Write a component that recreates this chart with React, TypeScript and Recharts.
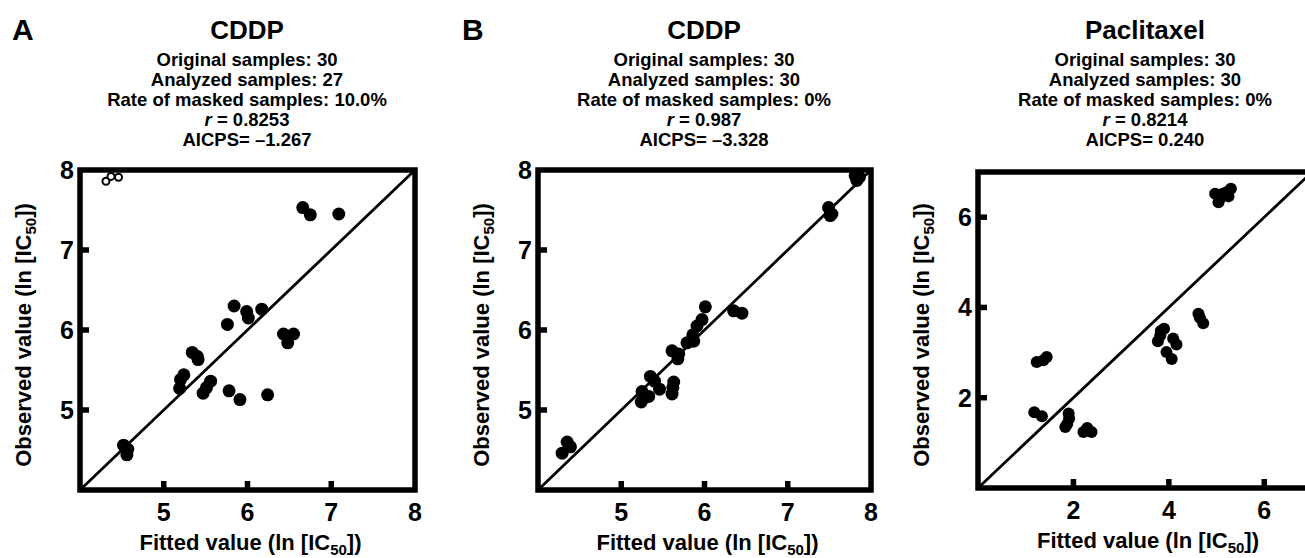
import React from "react";
import { Label, ReferenceArea, ReferenceLine, Scatter, ScatterChart, XAxis, YAxis } from "recharts";

const FONT = "'Liberation Sans', Arial, Helvetica, sans-serif";

// A: CDDP, analyzed samples (filled) and masked samples (open)
const cddpAFitted = [6.66, 6.75, 7.09, 5.84, 5.76, 5.99, 6.01, 6.17, 6.43, 6.55, 6.48, 5.34, 5.4, 5.41, 5.24, 5.2, 5.19, 5.56, 5.51, 5.47, 5.78, 5.91, 6.24, 4.52, 4.57, 4.56, 4.54];
const cddpAObserved = [7.53, 7.44, 7.45, 6.3, 6.07, 6.23, 6.15, 6.26, 5.95, 5.95, 5.84, 5.72, 5.67, 5.63, 5.44, 5.38, 5.27, 5.36, 5.28, 5.21, 5.24, 5.13, 5.19, 4.56, 4.51, 4.44, 4.53];
const cddpAMaskedFitted = [4.31, 4.37, 4.46];
const cddpAMaskedObserved = [7.86, 7.92, 7.91];

// B: CDDP, no masking
const cddpBFitted = [4.29, 4.35, 4.39, 5.25, 5.27, 5.33, 5.24, 5.35, 5.4, 5.46, 5.63, 5.62, 5.61, 5.61, 5.69, 5.68, 5.79, 5.87, 5.86, 5.91, 5.97, 6.01, 6.35, 6.45, 7.49, 7.51, 7.53, 7.81, 7.83, 7.86];
const cddpBObserved = [4.46, 4.6, 4.54, 5.23, 5.15, 5.17, 5.1, 5.42, 5.36, 5.26, 5.35, 5.28, 5.2, 5.74, 5.7, 5.64, 5.84, 5.86, 5.94, 6.05, 6.13, 6.29, 6.24, 6.21, 7.53, 7.43, 7.45, 7.93, 7.87, 7.91];

// B: Paclitaxel
const pacFitted = [1.23, 1.37, 1.44, 1.18, 1.34, 1.9, 1.91, 1.83, 1.87, 2.21, 2.29, 2.38, 3.9, 3.82, 3.77, 3.83, 4.09, 4.16, 3.95, 4.06, 4.62, 4.72, 4.65, 4.97, 5.07, 5.04, 5.25, 5.3, 5.13, 5.21];
const pacObserved = [2.79, 2.83, 2.9, 1.68, 1.59, 1.65, 1.54, 1.35, 1.42, 1.24, 1.33, 1.24, 3.53, 3.38, 3.25, 3.48, 3.31, 3.18, 3.01, 2.86, 3.86, 3.65, 3.77, 6.52, 6.41, 6.33, 6.46, 6.63, 6.52, 6.55];

const cddpTicks = [5, 6, 7, 8];
const cddpMarks = [5, 6, 7];
const pacTicks = [2, 4, 6];

const toPoints = (xs: number[], ys: number[]) => xs.map((x, i) => ({ x, y: ys[i] }));

const hasMark = (marks: number[], v: any) => marks.some((m) => Number(m) === Number(v));

const xTick = (marks: number[]) => (props: any) => {
  const { x, y, payload } = props;
  return (
    <g>
      {hasMark(marks, payload.value) && <rect x={x - 2.75} y={y - 9} width={5.5} height={9} fill="#000" />}
      <text x={x} y={y + 31} textAnchor="middle" fontSize={25} fontWeight="bold" fontFamily={FONT} fill="#000">
        {payload.value}
      </text>
    </g>
  );
};

const yTick = (marks: number[]) => (props: any) => {
  const { x, y, payload } = props;
  return (
    <g>
      {hasMark(marks, payload.value) && <rect x={x} y={y - 2.75} width={9} height={5.5} fill="#000" />}
      <text x={x - 6} y={y + 9} textAnchor="end" fontSize={25} fontWeight="bold" fontFamily={FONT} fill="#000">
        {payload.value}
      </text>
    </g>
  );
};

const labelText = (name: string) => [
  <tspan key="a">{name} (ln [IC</tspan>,
  <tspan key="b" dy={5} fontSize={15}>50</tspan>,
  <tspan key="c" dy={-5}>])</tspan>,
];

const xLabel = (props: any) => {
  const vb = props.viewBox;
  return (
    <text x={vb.x + vb.width / 2 + 3} y={vb.y + 60} textAnchor="middle" fontSize={22} fontWeight="bold" fontFamily={FONT} fill="#000">
      {labelText("Fitted value")}
    </text>
  );
};

const yLabel = (props: any) => {
  const vb = props.viewBox;
  const cx = vb.x + vb.width - 57;
  const cy = vb.y + vb.height / 2 + 5;
  return (
    <text transform={`translate(${cx},${cy}) rotate(-90)`} x={0} y={8} textAnchor="middle" fontSize={22} fontWeight="bold" fontFamily={FONT} fill="#000">
      {labelText("Observed value")}
    </text>
  );
};

const dot = (r: number) => (props: any) => <circle cx={props.cx} cy={props.cy} r={r} fill="#000" />;
const ring = (props: any) => <circle cx={props.cx} cy={props.cy} r={3.5} fill="#fff" stroke="#000" strokeWidth={2} />;

type PanelProps = {
  left: number;
  width: number;
  margin: { top: number; right: number; bottom: number; left: number };
  domain: [number, number];
  ticks: number[];
  marks: number[];
  points: { x: number; y: number }[];
  masked?: { x: number; y: number }[];
  r: number;
};

function Panel({ left, width, margin, domain, ticks, marks, points, masked, r }: PanelProps) {
  return (
    <div style={{ position: "absolute", left, top: 0 }}>
      <ScatterChart width={width} height={558} margin={margin}>
        <ReferenceArea x1={domain[0]} x2={domain[1]} y1={domain[0]} y2={domain[1]} fill="none" stroke="#000" strokeWidth={5.5} />
        <ReferenceLine segment={[{ x: domain[0], y: domain[0] }, { x: domain[1], y: domain[1] }]} stroke="#000" strokeWidth={2.8} />
        <XAxis type="number" dataKey="x" domain={domain} ticks={ticks} interval={0} height={40} axisLine={false} tickLine={false} tickSize={0} tickMargin={0} tick={xTick(marks)}>
          <Label content={xLabel} />
        </XAxis>
        <YAxis type="number" dataKey="y" domain={domain} ticks={ticks} interval={0} width={40} axisLine={false} tickLine={false} tickSize={0} tickMargin={0} tick={yTick(marks)}>
          <Label content={yLabel} />
        </YAxis>
        <Scatter data={points} shape={dot(r)} isAnimationActive={false} />
        {masked && <Scatter data={masked} shape={ring} isAnimationActive={false} />}
      </ScatterChart>
    </div>
  );
}

function Header({ cx, letter, title, lines }: { cx: number; letter?: { x: number; text: string }; title: string; lines: React.ReactNode[] }) {
  const base: React.CSSProperties = { position: "absolute", fontFamily: FONT, fontWeight: "bold", color: "#000", whiteSpace: "nowrap" };
  return (
    <>
      {letter && <div style={{ ...base, left: letter.x, top: 13, fontSize: 30, lineHeight: "34px" }}>{letter.text}</div>}
      <div style={{ ...base, left: cx - 200, width: 400, textAlign: "center", top: 15, fontSize: 26, lineHeight: "30px" }}>{title}</div>
      {lines.map((line, i) => (
        <div key={i} style={{ ...base, left: cx - 200, width: 400, textAlign: "center", top: 50 + i * 20, fontSize: 18.5, lineHeight: "20px" }}>
          {line}
        </div>
      ))}
    </>
  );
}

export default function App() {
  return (
    <div style={{ position: "absolute", left: 0, top: 0, width: 1305, height: 558, overflow: "hidden", background: "#fff" }}>
      <Header
        cx={247}
        letter={{ x: 12, text: "A" }}
        title="CDDP"
        lines={["Original samples: 30", "Analyzed samples: 27", "Rate of masked samples: 10.0%", <><i>r</i> = 0.8253</>, "AICPS= –1.267"]}
      />
      <Header
        cx={704}
        letter={{ x: 462, text: "B" }}
        title="CDDP"
        lines={["Original samples: 30", "Analyzed samples: 30", "Rate of masked samples: 0%", <><i>r</i> = 0.987</>, "AICPS= –3.328"]}
      />
      <Header
        cx={1145}
        title="Paclitaxel"
        lines={["Original samples: 30", "Analyzed samples: 30", "Rate of masked samples: 0%", <><i>r</i> = 0.8214</>, "AICPS= 0.240"]}
      />
      <Panel
        left={0}
        width={440}
        margin={{ top: 170, right: 25, bottom: 28, left: 40 }}
        domain={[4, 8]}
        ticks={cddpTicks}
        marks={cddpMarks}
        points={toPoints(cddpAFitted, cddpAObserved)}
        masked={toPoints(cddpAMaskedFitted, cddpAMaskedObserved)}
        r={6.5}
      />
      <Panel
        left={440}
        width={445}
        margin={{ top: 170, right: 14, bottom: 28, left: 58 }}
        domain={[4, 8]}
        ticks={cddpTicks}
        marks={cddpMarks}
        points={toPoints(cddpBFitted, cddpBObserved)}
        r={6.5}
      />
      <Panel
        left={885}
        width={440}
        margin={{ top: 172, right: 13, bottom: 30, left: 53 }}
        domain={[0, 7]}
        ticks={pacTicks}
        marks={pacTicks}
        points={toPoints(pacFitted, pacObserved)}
        r={6}
      />
    </div>
  );
}
